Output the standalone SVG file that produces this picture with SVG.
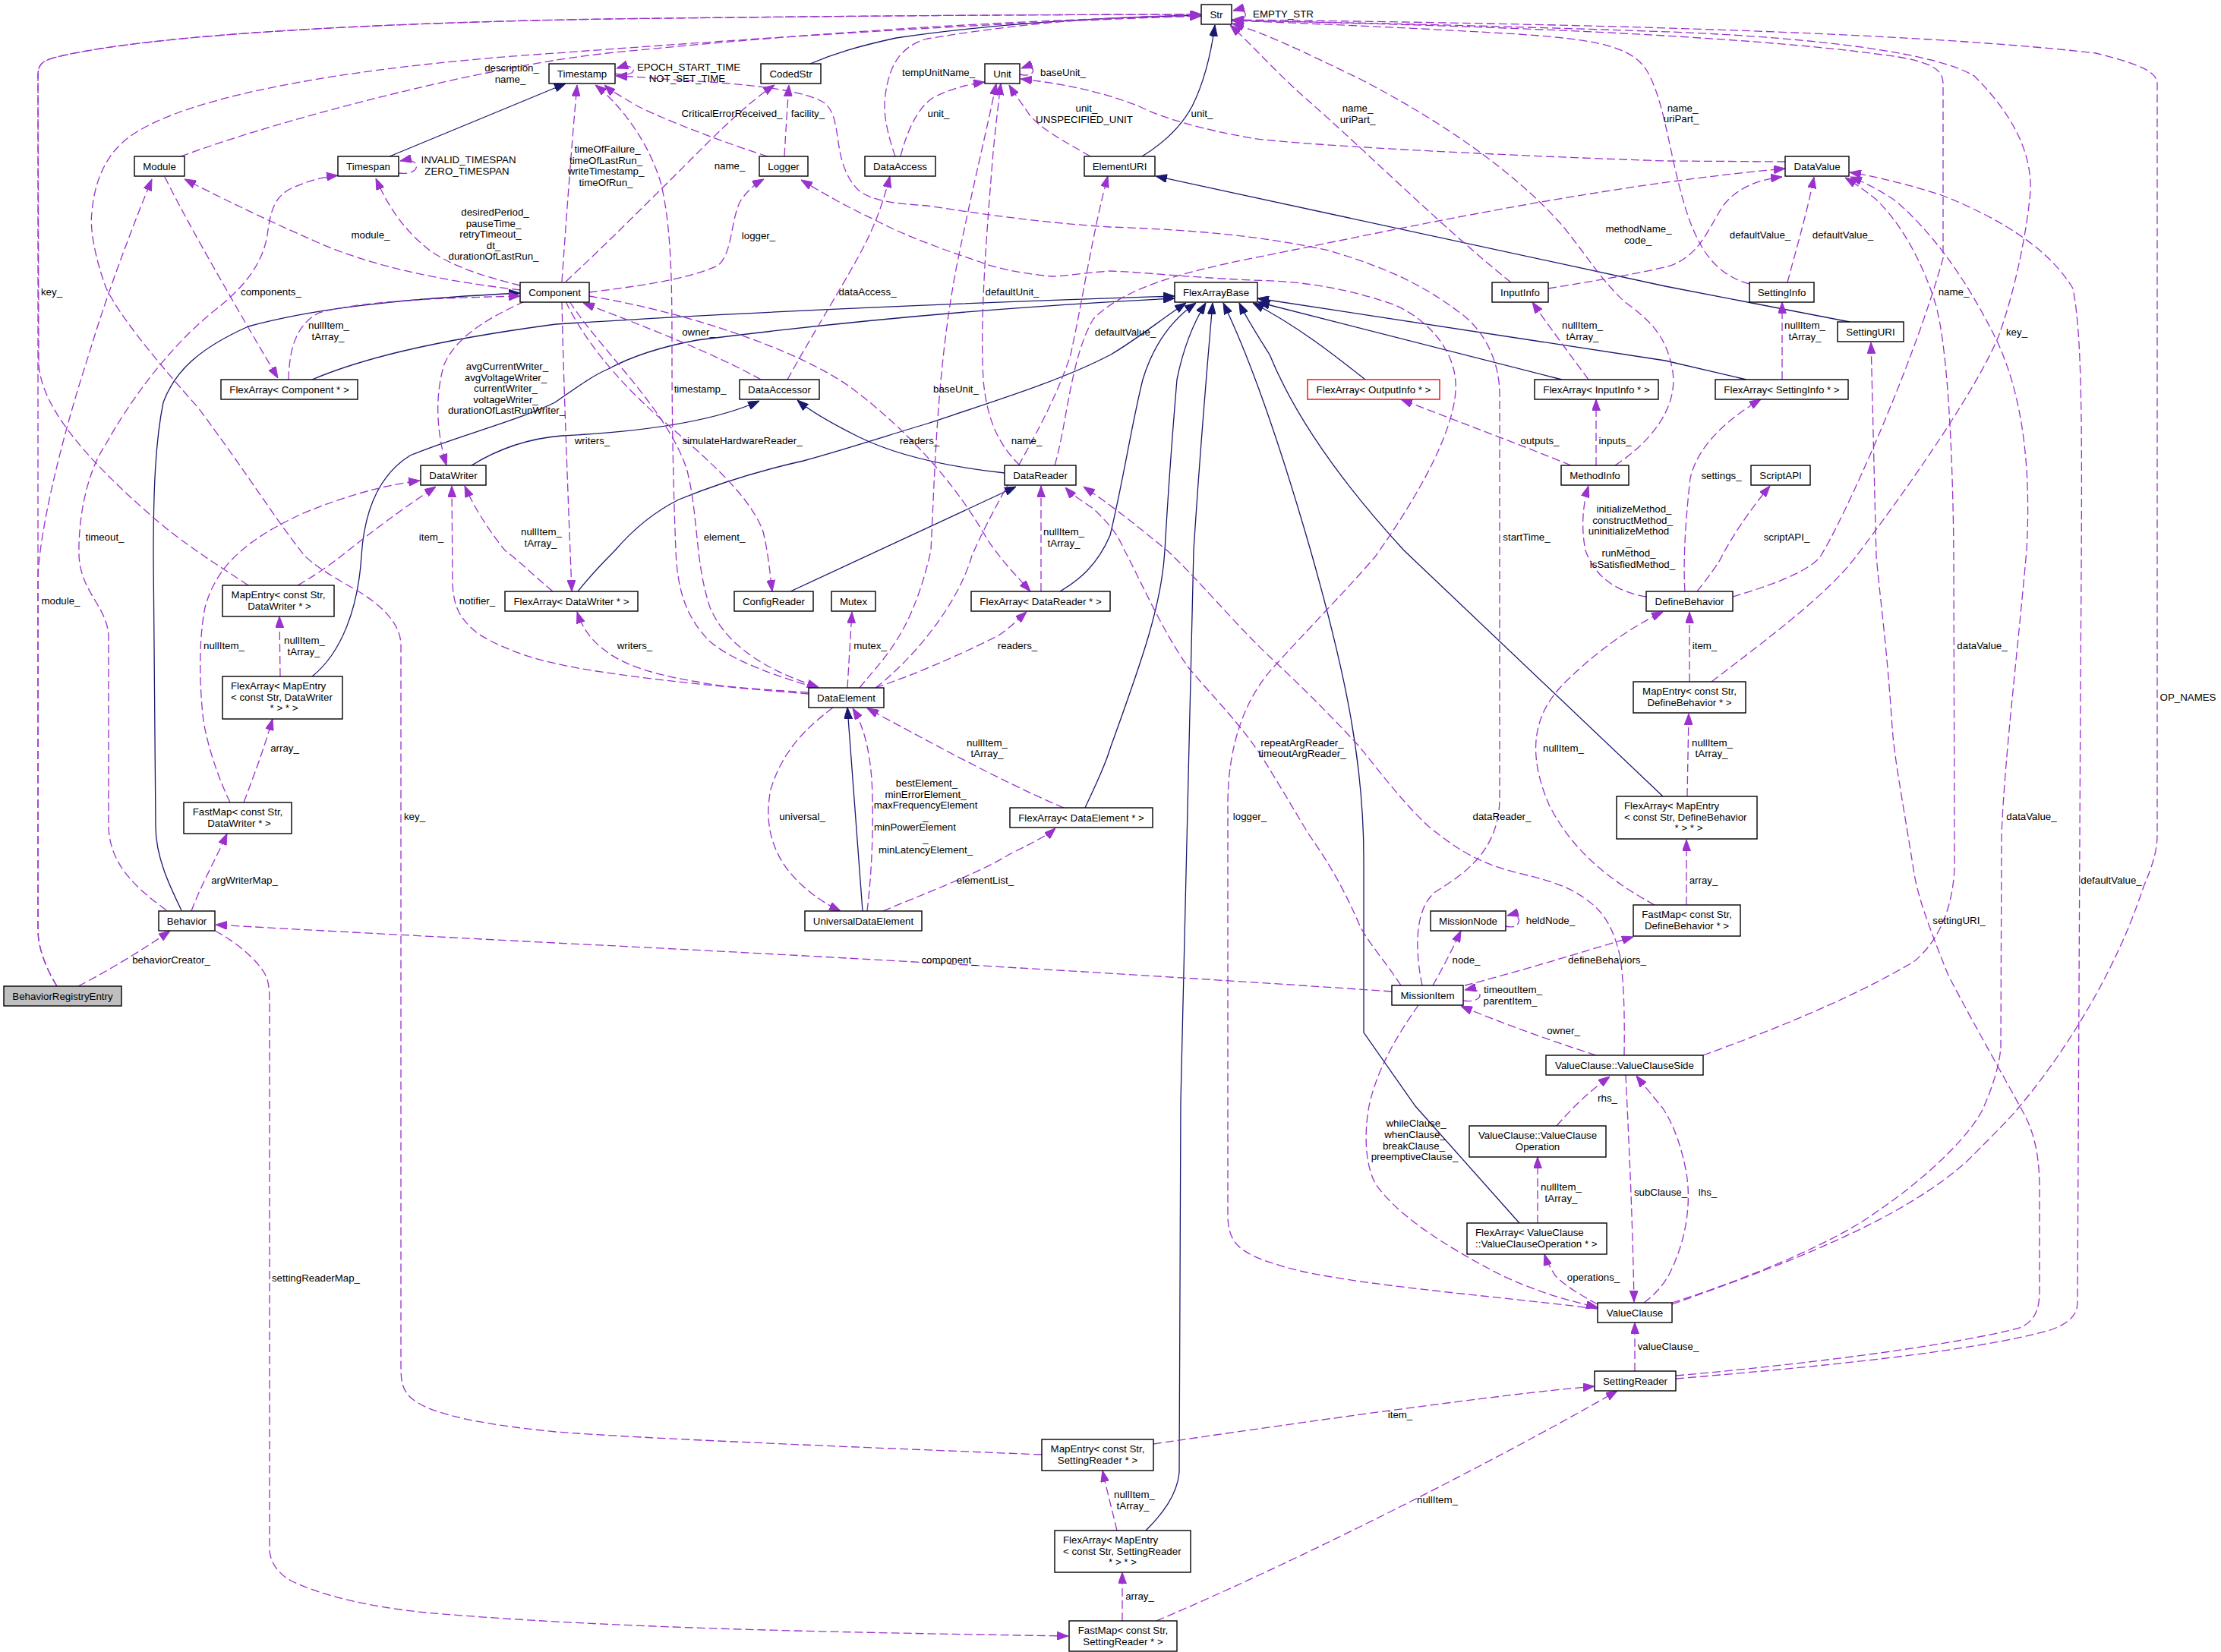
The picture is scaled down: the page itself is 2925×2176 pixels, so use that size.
<svg xmlns="http://www.w3.org/2000/svg" width="2925" height="2176" viewBox="0 0 2925 2176">
<style>
.n rect{fill:#fff;stroke:#000;stroke-width:1.4}
.t{font-family:"Liberation Sans",Arial,sans-serif;font-size:13.3px;fill:#000}
.m{text-anchor:middle}
.d{fill:none;stroke:#9a32cd;stroke-width:1.3;stroke-dasharray:11,5;marker-end:url(#ap)}
.s{fill:none;stroke:#191970;stroke-width:1.3;marker-end:url(#an)}
</style>
<defs>
<marker id="ap" viewBox="0 0 15 11" markerWidth="15" markerHeight="11" refX="15" refY="5.5" orient="auto" markerUnits="userSpaceOnUse"><path d="M0,0 L15,5.5 L0,11 z" fill="#9a32cd" stroke="#9a32cd" stroke-width="1"/></marker>
<marker id="an" viewBox="0 0 15 11" markerWidth="15" markerHeight="11" refX="15" refY="5.5" orient="auto" markerUnits="userSpaceOnUse"><path d="M0,0 L15,5.5 L0,11 z" fill="#191970" stroke="#191970" stroke-width="1"/></marker>
</defs>
<rect width="2925" height="2176" fill="#fff"/>
<g id="connectors">
<!-- inheritance -->
<path class="s" d="M1067,84 C1100,70 1130,61 1180,50 C1300,32 1450,23 1582,20"/>
<path class="s" d="M1504,206 C1530,190 1555,168 1570,140 C1585,110 1595,70 1600,33"/>
<path class="s" d="M513,206 L745,110"/>
<path class="s" d="M2436,424 L2193,377 L1522,232"/>
<path class="s" d="M239,1199 C225,1170 205,1130 205,1089 L202,732 C202,640 205,580 215,530 C230,490 260,460 327,430 C400,410 500,395 685,386"/>
<path class="s" d="M411,500 C470,475 560,450 732,427 C1000,410 1300,398 1547,390"/>
<path class="s" d="M411,891 C450,860 472,800 476,732 C480,670 500,625 540,600 C600,575 680,555 731,530 C760,510 780,495 801,486 C840,465 880,455 918,448 C1100,425 1300,405 1547,393"/>
<path class="s" d="M761,779 C780,755 795,740 810,725 C840,690 870,670 894,658 C950,635 1000,620 1058,607 C1120,590 1180,570 1221,558 C1320,525 1400,500 1463,467 C1500,445 1530,420 1562,399"/>
<path class="s" d="M1396,779 C1420,765 1445,745 1462,705 C1480,630 1490,560 1505,500 C1520,450 1545,420 1575,399"/>
<path class="s" d="M1429,1064 C1440,1040 1455,1010 1462,986 C1500,880 1530,800 1534,725 C1540,620 1545,560 1550,500 C1560,450 1575,420 1588,399"/>
<path class="s" d="M1509,2016 C1530,1995 1550,1970 1553,1940 L1555,1450 L1572,725 C1580,600 1590,480 1597,399"/>
<path class="s" d="M2001,1611 L1864,1457 L1796,1360 L1796,1131 C1796,1000 1770,880 1726,725 C1690,600 1650,480 1611,399"/>
<path class="s" d="M2190,1049 L1849,725 C1780,650 1710,560 1672,467 C1655,440 1642,420 1632,399"/>
<path class="s" d="M1798,500 C1760,470 1710,430 1650,399"/>
<path class="s" d="M2057,500 L1657,398"/>
<path class="s" d="M2300,500 L2193,475 L1656,393"/>
<path class="s" d="M621,613 C650,595 690,578 740,574 C820,570 930,560 1000,528"/>
<path class="s" d="M1323,623 C1250,615 1180,600 1130,575 C1090,555 1065,540 1050,527"/>
<path class="s" d="M1041,779 L1338,641"/>
<path class="s" d="M1136,1200 L1116,932"/>
<!-- usage -->
<path class="d" d="M75,1299 C62,1278 50,1250 50,1225 L50,100 C50,85 55,80 75,75 C200,45 500,30 800,25 C1100,21 1400,19 1582,19"/>
<path class="d" d="M327,771 C280,740 240,715 200,680 C120,610 55,540 51,480 L50,100 C50,85 55,80 75,75 C200,45 500,30 800,25 C1100,21 1400,19 1582,19"/>
<path class="d" d="M75,1299 C62,1278 50,1250 50,1225 L50,760 C52,700 80,580 117,467 C140,390 170,310 200,236"/>
<path class="d" d="M1372,1916 C1100,1905 850,1895 732,1886 C620,1875 560,1860 540,1840 C530,1830 528,1820 528,1800 L528,850 C528,820 500,795 467,776 C430,755 415,745 401,732 C360,680 330,630 261,537 C210,480 160,420 140,380 C125,340 118,300 121,280 C125,230 145,200 168,182 C250,120 500,85 732,70 C1000,50 1300,30 1582,21"/>
<path class="d" d="M238,206 C330,172 470,133 607,103 C700,84 732,78 800,70 C1100,40 1350,26 1582,21"/>
<path class="d" d="M685,376 C640,365 590,350 560,325 C530,300 510,270 495,235"/>
<path class="d" d="M685,382 C600,372 500,355 420,320 C340,285 280,255 243,236"/>
<path class="d" d="M217,233 C250,300 320,420 366,498"/>
<path class="d" d="M380,500 C381,470 385,430 420,412 C480,395 600,392 685,390"/>
<path class="d" d="M219,1199 C180,1170 145,1140 143,1090 L143,840 C143,800 105,780 104,730 C103,680 115,620 140,584 C170,530 220,460 280,411 C320,380 345,350 352,310 C356,280 360,262 380,250 C400,240 420,234 445,231"/>
<path class="d" d="M740,371 C745,300 752,200 760,112"/>
<path class="d" d="M745,371 C800,320 870,250 930,190 C970,150 1000,125 1020,112"/>
<path class="d" d="M776,385 C830,378 900,370 945,350 C965,335 962,290 975,265 C985,250 995,242 1006,236"/>
<path class="d" d="M1033,206 C1035,170 1037,140 1039,112"/>
<path class="d" d="M1011,206 C960,190 880,160 840,140 C820,128 805,120 796,112"/>
<path class="d" d="M1186,206 C1195,170 1210,140 1230,128 C1250,118 1270,112 1297,108"/>
<path class="d" d="M1179,206 C1170,180 1162,150 1166,125 C1172,80 1190,60 1221,51 C1350,30 1450,22 1582,20"/>
<path class="d" d="M1436,206 C1400,185 1370,170 1355,150 C1345,135 1335,122 1329,112"/>
<path class="d" d="M2351,213 L2194,212 C1950,204 1700,190 1649,182 C1580,170 1530,155 1500,140 C1470,128 1420,112 1344,104"/>
<path class="d" d="M1343,98 C1366,104 1366,82 1345,90"/>
<path class="d" d="M810,97 C842,104 842,80 812,90"/>
<path class="d" d="M1622,26 C1646,31 1646,8 1624,14"/>
<path class="d" d="M525,228 C556,232 556,206 527,212"/>
<path class="d" d="M1873,1298 C1865,1260 1860,1200 1890,1175 C1930,1150 1975,1120 1975,1050 L1975,520 C1975,470 1950,430 1920,410 C1880,380 1835,355 1750,330 C1650,308 1550,302 1462,299 C1350,292 1250,275 1221,271 C1180,268 1150,266 1130,250 C1110,230 1106,200 1104,187 C1100,160 1098,145 1085,135 C1060,120 1000,112 918,107 C870,104 840,101 811,100"/>
<path class="d" d="M2104,1724 C1950,1705 1750,1690 1680,1665 C1630,1650 1617,1635 1617,1600 L1617,1060 C1617,980 1640,920 1677,879 C1740,810 1780,770 1812,732 C1870,650 1920,560 1917,504 C1915,460 1880,420 1835,401 C1760,375 1700,370 1649,369 C1560,365 1500,358 1462,357 C1420,360 1400,364 1385,364 C1340,360 1300,350 1291,345 C1230,325 1180,305 1151,289 C1110,270 1080,252 1055,237"/>
<path class="d" d="M1075,906 C1020,890 964,870 935,845 C905,815 892,780 890,725 C887,650 885,560 885,470 C885,380 885,300 870,240 C855,190 820,140 784,112"/>
<path class="d" d="M750,397 C790,460 880,540 905,620 C920,680 915,740 935,800 C960,860 1030,890 1078,905"/>
<path class="d" d="M691,397 C640,420 600,445 585,480 C570,530 578,580 588,613"/>
<path class="d" d="M740,397 C742,500 748,650 753,779"/>
<path class="d" d="M745,397 C770,450 820,510 880,560 C950,620 990,660 1005,700 C1012,730 1014,755 1017,779"/>
<path class="d" d="M776,390 C900,410 1050,460 1120,510 C1200,570 1260,640 1300,710 C1320,740 1340,760 1357,779"/>
<path class="d" d="M1002,500 C950,470 850,430 768,399"/>
<path class="d" d="M1037,500 C1070,440 1120,360 1140,320 C1155,290 1165,260 1172,232"/>
<path class="d" d="M1343,613 C1320,590 1300,560 1295,500 C1290,420 1300,300 1308,200 C1312,160 1315,135 1318,110"/>
<path class="d" d="M1389,613 C1405,560 1410,470 1440,420 C1480,380 1550,360 1650,340 C1850,300 2100,245 2351,222"/>
<path class="d" d="M1132,906 C1160,870 1200,840 1226,725 C1232,600 1235,480 1260,350 C1280,250 1300,170 1312,110"/>
<path class="d" d="M1153,906 C1200,870 1260,800 1280,732 C1320,640 1380,560 1410,467 C1425,400 1440,300 1459,232"/>
<path class="d" d="M1990,372 C1900,300 1800,200 1720,130 C1680,95 1650,60 1620,33"/>
<path class="d" d="M2304,374 C2260,362 2240,330 2225,290 C2200,220 2195,140 2170,95 C2150,60 2100,52 2000,45 C1850,36 1700,30 1622,27"/>
<path class="d" d="M2127,613 C2170,585 2210,540 2203,490 C2195,440 2170,420 2139,397 C2110,370 2092,340 2060,300 C2000,230 1900,160 1789,103 C1720,70 1670,45 1623,31"/>
<path class="d" d="M2282,786 C2330,772 2385,752 2398,732 C2430,680 2520,480 2559,340 L2559,110 C2559,90 2540,82 2500,75 C2300,45 1900,32 1623,27"/>
<path class="d" d="M2254,898 C2330,840 2410,780 2445,732 C2500,660 2600,520 2632,443 C2655,380 2670,300 2674,252 C2676,200 2650,150 2600,100 C2550,70 2400,50 2200,42 C2000,35 1800,30 1623,27"/>
<path class="d" d="M2202,1718 C2350,1665 2500,1610 2590,1530 C2630,1490 2650,1470 2660,1457 C2700,1410 2780,1300 2823,1168 C2835,1140 2841,1120 2841,1100 L2841,110 C2841,95 2820,85 2760,70 C2500,40 2000,30 1623,26"/>
<path class="d" d="M2202,1716 C2300,1685 2420,1635 2473,1595 C2540,1550 2600,1490 2613,1457 C2625,1430 2634,1400 2635,1378 L2636,1100 C2640,1000 2655,880 2669,725 C2675,620 2665,520 2627,443 C2600,390 2560,320 2497,265 C2475,250 2455,240 2437,233"/>
<path class="d" d="M2243,1390 C2320,1362 2430,1320 2520,1267 C2560,1235 2575,1180 2574,1131 L2573,732 C2572,600 2565,450 2548,397 C2530,340 2500,290 2470,262 C2455,250 2445,243 2430,234"/>
<path class="d" d="M2207,1816 C2400,1800 2600,1780 2700,1752 C2728,1742 2736,1730 2736,1715 L2740,900 C2742,600 2744,450 2730,380 C2700,330 2640,290 2557,257 C2520,245 2470,232 2436,227"/>
<path class="d" d="M2207,1812 C2400,1795 2580,1770 2660,1749 C2680,1740 2686,1725 2686,1700 L2686,1560 C2685,1500 2670,1475 2660,1457 C2640,1420 2600,1350 2566,1285 C2540,1220 2525,1180 2520,1145 C2505,1050 2495,1000 2492,958 C2485,850 2475,780 2471,732 C2468,620 2466,520 2464,451"/>
<path class="d" d="M2039,380 C2100,370 2160,360 2200,350 C2240,335 2250,300 2270,270 C2290,245 2320,236 2347,233"/>
<path class="d" d="M2354,372 C2365,330 2380,280 2389,233"/>
<path class="d" d="M2092,500 C2070,470 2040,430 2018,398"/>
<path class="d" d="M2347,500 L2347,398"/>
<path class="d" d="M2102,613 L2102,526"/>
<path class="d" d="M2069,613 C2000,585 1920,555 1845,526"/>
<path class="d" d="M2168,786 C2130,780 2100,760 2088,725 C2083,700 2083,670 2092,640"/>
<path class="d" d="M2219,779 C2217,750 2218,700 2226,630 C2235,590 2270,555 2319,526"/>
<path class="d" d="M2235,779 C2250,760 2265,740 2268,732 C2285,700 2310,665 2331,640"/>
<path class="d" d="M2225,898 L2225,806"/>
<path class="d" d="M2222,1049 L2224,940"/>
<path class="d" d="M2221,1192 L2221,1106"/>
<path class="d" d="M2179,1192 C2120,1160 2070,1120 2040,1060 C2010,990 2020,940 2060,900 C2110,850 2160,820 2190,806"/>
<path class="d" d="M1929,1298 C2000,1280 2080,1255 2151,1234"/>
<path class="d" d="M1887,1298 C1900,1275 1912,1252 1924,1226"/>
<path class="d" d="M1983,1220 C2006,1226 2006,1200 1985,1206"/>
<path class="d" d="M1927,1318 C1956,1323 1956,1298 1929,1304"/>
<path class="d" d="M1833,1306 C1600,1290 1200,1265 731,1242 C500,1230 350,1222 284,1218"/>
<path class="d" d="M2102,1390 C2040,1370 1970,1345 1924,1325"/>
<path class="d" d="M1868,1324 C1850,1350 1815,1400 1803,1457 C1795,1500 1800,1540 1812,1560 C1840,1600 1900,1640 1976,1679 C2020,1700 2060,1712 2104,1722"/>
<path class="d" d="M2139,1390 C2140,1330 2138,1290 2134,1262 C2125,1220 2110,1200 2092,1187 C2070,1170 2050,1162 2000,1150 C1950,1138 1920,1120 1882,1089 C1850,1060 1820,1020 1789,982 C1750,940 1710,900 1672,865 C1620,815 1580,765 1537,725 C1500,695 1470,670 1427,641"/>
<path class="d" d="M1845,1298 C1820,1260 1800,1240 1789,1215 C1765,1160 1745,1130 1723,1098 C1700,1060 1680,1025 1658,991 C1630,950 1595,915 1565,879 C1530,830 1500,760 1481,725 C1470,700 1460,690 1440,670 C1425,660 1412,652 1403,642"/>
<path class="d" d="M2050,1483 C2070,1460 2090,1440 2120,1418"/>
<path class="d" d="M2141,1416 C2145,1500 2150,1600 2152,1715"/>
<path class="d" d="M2165,1716 C2180,1705 2193,1690 2200,1675 C2222,1630 2228,1580 2220,1540 C2212,1500 2200,1475 2190,1460 C2178,1445 2165,1430 2155,1417"/>
<path class="d" d="M2104,1718 C2080,1705 2060,1693 2048,1680 C2042,1670 2037,1662 2034,1652"/>
<path class="d" d="M2025,1611 L2025,1524"/>
<path class="d" d="M2153,1806 L2153,1742"/>
<path class="d" d="M1519,1902 C1600,1890 1742,1870 1800,1862 C1950,1842 2030,1832 2100,1826"/>
<path class="d" d="M1523,2135 C1700,2060 1950,1935 2130,1832"/>
<path class="d" d="M1471,2016 C1465,1990 1458,1965 1452,1937"/>
<path class="d" d="M1478,2135 L1478,2071"/>
<path class="d" d="M283,1226 C310,1240 340,1265 350,1285 C355,1295 355,1310 355,1330 L355,2040 C355,2060 370,2075 383,2082 C430,2105 500,2118 560,2124 C800,2145 1100,2150 1407,2155"/>
<path class="d" d="M252,1200 C265,1165 285,1130 299,1098"/>
<path class="d" d="M321,1057 C335,1020 348,985 359,947"/>
<path class="d" d="M369,891 L368,812"/>
<path class="d" d="M303,1057 C290,1030 275,990 268,950 C262,900 262,840 270,800 C278,770 295,745 315,728 C340,705 370,690 397,677 C450,655 500,640 553,633"/>
<path class="d" d="M392,771 C420,755 440,740 455,728 C490,700 530,670 574,641"/>
<path class="d" d="M1065,914 C950,905 800,890 732,874 C690,865 654,850 630,835 C605,815 598,800 596,770 L595,640"/>
<path class="d" d="M1065,912 C1000,908 950,905 918,898 C870,890 830,880 801,860 C780,845 768,830 760,806"/>
<path class="d" d="M728,779 C705,760 685,740 665,725 C645,700 625,670 612,640"/>
<path class="d" d="M1116,906 L1122,806"/>
<path class="d" d="M1153,906 C1200,890 1260,865 1315,837 C1330,827 1342,815 1352,806"/>
<path class="d" d="M1097,932 C1060,960 1030,990 1015,1040 C1005,1090 1020,1130 1050,1160 C1070,1180 1090,1192 1107,1200"/>
<path class="d" d="M1142,1200 C1148,1150 1150,1100 1149,1050 C1148,1000 1140,960 1123,933"/>
<path class="d" d="M1401,1064 C1320,1030 1220,975 1142,933"/>
<path class="d" d="M1163,1200 C1210,1180 1290,1150 1330,1125 C1360,1110 1380,1100 1390,1091"/>
<path class="d" d="M1371,779 L1371,640"/>
<path class="d" d="M103,1299 C140,1280 190,1250 224,1226"/>
</g>
<g id="edge-labels" class="t">
<text class="t m" x="674" y="94">description_</text><text class="t m" x="672" y="108.6">name_</text>
<text class="t m" x="68" y="389">key_</text>
<text class="t m" x="80" y="796">module_</text>
<text class="t m" x="488" y="314">module_</text>
<text class="t m" x="357" y="389">components_</text>
<text class="t m" x="433" y="433">nullItem_</text><text class="t m" x="432" y="448">tArray_</text>
<text class="t m" x="617" y="215">INVALID_TIMESPAN</text><text class="t m" x="615" y="230">ZERO_TIMESPAN</text>
<text class="t m" x="652" y="284">desiredPeriod_</text><text class="t m" x="650" y="298.6">pauseTime_</text><text class="t m" x="646" y="313.2">retryTimeout_</text><text class="t m" x="650" y="327.8">dt_</text><text class="t m" x="650" y="342.4">durationOfLastRun_</text>
<text class="t m" x="668" y="487">avgCurrentWriter_</text><text class="t m" x="666" y="501.6">avgVoltageWriter_</text><text class="t m" x="666" y="516.2">currentWriter_</text><text class="t m" x="666" y="530.8">voltageWriter_</text><text class="t m" x="667" y="545.4">durationOfLastRunWriter_</text>
<text class="t m" x="138" y="712">timeout_</text>
<text class="t m" x="568" y="712">item_</text>
<text class="t m" x="713" y="705">nullItem_</text><text class="t m" x="712" y="719.6">tArray_</text>
<text class="t m" x="907" y="93">EPOCH_START_TIME</text><text class="t m" x="905" y="107.6">NOT_SET_TIME</text>
<text class="t m" x="1236" y="100">tempUnitName_</text>
<text class="t m" x="1400" y="100">baseUnit_</text>
<text class="t m" x="964" y="154.4">CriticalErrorReceived_</text>
<text class="t m" x="1064" y="154.4">facility_</text>
<text class="t m" x="1236" y="154.4">unit_</text>
<text class="t m" x="1431" y="147">unit_</text><text class="t m" x="1428" y="161.6">UNSPECIFIED_UNIT</text>
<text class="t m" x="800" y="201">timeOfFailure_</text><text class="t m" x="798" y="215.6">timeOfLastRun_</text><text class="t m" x="798" y="230.2">writeTimestamp_</text><text class="t m" x="798" y="244.8">timeOfRun_</text>
<text class="t m" x="961" y="223">name_</text>
<text class="t m" x="999" y="314.5">logger_</text>
<text class="t m" x="1142.5" y="389">dataAccess_</text>
<text class="t m" x="1333" y="389">defaultUnit_</text>
<text class="t m" x="1482" y="441.5">defaultValue_</text>
<text class="t m" x="920" y="441.5">owner_</text>
<text class="t m" x="922" y="516.7">timestamp_</text>
<text class="t m" x="1259" y="516.7">baseUnit_</text>
<text class="t m" x="780" y="585">writers_</text>
<text class="t m" x="977.5" y="585">simulateHardwareReader_</text>
<text class="t m" x="1211" y="585">readers_</text>
<text class="t m" x="1352" y="585">name_</text>
<text class="t m" x="954" y="712">element_</text>
<text class="t m" x="1401" y="705">nullItem_</text><text class="t m" x="1401" y="719.6">tArray_</text>
<text class="t m" x="1690" y="22.7">EMPTY_STR</text>
<text class="t m" x="1583" y="154.4">unit_</text>
<text class="t m" x="1788" y="147">name_</text><text class="t m" x="1788" y="162">uriPart_</text>
<text class="t m" x="2158" y="306">methodName_</text><text class="t m" x="2157" y="320.6">code_</text>
<text class="t m" x="2084" y="433">nullItem_</text><text class="t m" x="2084" y="448">tArray_</text>
<text class="t m" x="2028" y="585">outputs_</text>
<text class="t m" x="2127" y="585">inputs_</text>
<text class="t m" x="2010.5" y="712">startTime_</text>
<text class="t m" x="2152" y="675">initializeMethod_</text><text class="t m" x="2150" y="689.6">constructMethod_</text><text class="t m" x="2145" y="704.2">uninitializeMethod</text><text class="t m" x="2145" y="718.8">_</text><text class="t m" x="2145" y="733.4">runMethod_</text><text class="t m" x="2150" y="748">isSatisfiedMethod_</text>
<text class="t m" x="2216" y="146.5">name_</text><text class="t m" x="2214" y="161.4">uriPart_</text>
<text class="t m" x="2318" y="314">defaultValue_</text>
<text class="t m" x="2427" y="314">defaultValue_</text>
<text class="t m" x="2573" y="389">name_</text>
<text class="t m" x="2656" y="441.5">key_</text>
<text class="t m" x="2377" y="433">nullItem_</text><text class="t m" x="2377" y="448">tArray_</text>
<text class="t m" x="2267" y="630.6">settings_</text>
<text class="t m" x="2353" y="712">scriptAPI_</text>
<text class="t m" x="295" y="855">nullItem_</text>
<text class="t m" x="401" y="848">nullItem_</text><text class="t m" x="400" y="862.6">tArray_</text>
<text class="t m" x="628.5" y="796">notifier_</text>
<text class="t m" x="375" y="990">array_</text>
<text class="t m" x="546" y="1080">key_</text>
<text class="t m" x="322" y="1164">argWriterMap_</text>
<text class="t m" x="225.5" y="1269">behaviorCreator_</text>
<text class="t m" x="836" y="855">writers_</text>
<text class="t m" x="1146" y="855">mutex_</text>
<text class="t m" x="1340" y="855">readers_</text>
<text class="t m" x="1300" y="982.6">nullItem_</text><text class="t m" x="1300" y="997.2">tArray_</text>
<text class="t m" x="1220.5" y="1036">bestElement_</text><text class="t m" x="1219" y="1050.6">minErrorElement_</text><text class="t m" x="1219" y="1065.2">maxFrequencyElement</text><text class="t m" x="1219" y="1079.8">_</text><text class="t m" x="1205" y="1094.4">minPowerElement</text><text class="t m" x="1219" y="1109">_</text><text class="t m" x="1219" y="1123.6">minLatencyElement_</text>
<text class="t m" x="1056.5" y="1080">universal_</text>
<text class="t m" x="1297.5" y="1164">elementList_</text>
<text class="t m" x="1250" y="1269">component_</text>
<text class="t m" x="1715" y="982.6">repeatArgReader_</text><text class="t m" x="1715" y="997.2">timeoutArgReader_</text>
<text class="t m" x="1646" y="1080">logger_</text>
<text class="t m" x="1978" y="1080">dataReader_</text>
<text class="t m" x="2059" y="989.6">nullItem_</text>
<text class="t m" x="2042" y="1216.5">heldNode_</text>
<text class="t m" x="1931" y="1269">node_</text>
<text class="t m" x="2116.5" y="1269">defineBehaviors_</text>
<text class="t m" x="1992.5" y="1308">timeoutItem_</text><text class="t m" x="1989" y="1322.6">parentItem_</text>
<text class="t m" x="2059" y="1361.6">owner_</text>
<text class="t m" x="2117" y="1451">rhs_</text>
<text class="t m" x="2245" y="855">item_</text>
<text class="t m" x="2610.5" y="855">dataValue_</text>
<text class="t m" x="2881.5" y="922.8">OP_NAMES</text>
<text class="t m" x="2255" y="982.6">nullItem_</text><text class="t m" x="2254" y="997.2">tArray_</text>
<text class="t m" x="2675.5" y="1080">dataValue_</text>
<text class="t m" x="2243.5" y="1164">array_</text>
<text class="t m" x="2780.5" y="1164">defaultValue_</text>
<text class="t m" x="2580" y="1216.5">settingURI_</text>
<text class="t m" x="416" y="1687.5">settingReaderMap_</text>
<text class="t m" x="1865" y="1484.4">whileClause_</text><text class="t m" x="1863.5" y="1499">whenClause_</text><text class="t m" x="1862" y="1513.6">breakClause_</text><text class="t m" x="1863" y="1528.2">preemptiveClause_</text>
<text class="t m" x="2056" y="1568.4">nullItem_</text><text class="t m" x="2056" y="1583">tArray_</text>
<text class="t m" x="2187" y="1575.4">subClause_</text>
<text class="t m" x="2249" y="1575.4">lhs_</text>
<text class="t m" x="2098.5" y="1687">operations_</text>
<text class="t m" x="2197" y="1778">valueClause_</text>
<text class="t m" x="1844" y="1868">item_</text>
<text class="t m" x="1893" y="1980">nullItem_</text>
<text class="t m" x="1494" y="1973">nullItem_</text><text class="t m" x="1492" y="1987.6">tArray_</text>
<text class="t m" x="1501" y="2107">array_</text>
</g>
<g id="nodes">
<g id="n-Str" class="n"><rect x="1582" y="6" width="40" height="26"/><text class="t m" x="1602" y="24">Str</text></g>
<g id="n-Timestamp" class="n"><rect x="723" y="84" width="87" height="26"/><text class="t m" x="766.5" y="102">Timestamp</text></g>
<g id="n-CodedStr" class="n"><rect x="1002" y="84" width="79" height="26"/><text class="t m" x="1041.5" y="102">CodedStr</text></g>
<g id="n-Unit" class="n"><rect x="1297" y="84" width="46" height="26"/><text class="t m" x="1320" y="102">Unit</text></g>
<g id="n-Module" class="n"><rect x="177" y="206" width="66" height="26"/><text class="t m" x="210" y="224">Module</text></g>
<g id="n-Timespan" class="n"><rect x="445" y="206" width="80" height="26"/><text class="t m" x="485" y="224">Timespan</text></g>
<g id="n-Logger" class="n"><rect x="1000" y="206" width="64" height="26"/><text class="t m" x="1032" y="224">Logger</text></g>
<g id="n-DataAccess" class="n"><rect x="1139" y="206" width="93" height="26"/><text class="t m" x="1185.5" y="224">DataAccess</text></g>
<g id="n-ElementURI" class="n"><rect x="1428" y="206" width="93" height="26"/><text class="t m" x="1474.5" y="224">ElementURI</text></g>
<g id="n-DataValue" class="n"><rect x="2351" y="206" width="84" height="26"/><text class="t m" x="2393" y="224">DataValue</text></g>
<g id="n-Component" class="n"><rect x="685" y="372" width="91" height="26"/><text class="t m" x="730.5" y="390">Component</text></g>
<g id="n-FlexArrayBase" class="n"><rect x="1547" y="372" width="109" height="26"/><text class="t m" x="1601.5" y="390">FlexArrayBase</text></g>
<g id="n-InputInfo" class="n"><rect x="1965" y="372" width="74" height="26"/><text class="t m" x="2002" y="390">InputInfo</text></g>
<g id="n-SettingInfo" class="n"><rect x="2304" y="372" width="85" height="26"/><text class="t m" x="2346.5" y="390">SettingInfo</text></g>
<g id="n-SettingURI" class="n"><rect x="2420" y="424" width="87" height="26"/><text class="t m" x="2463.5" y="442">SettingURI</text></g>
<g id="n-FlexArrayComponent" class="n"><rect x="291" y="500" width="180" height="26"/><text class="t m" x="381" y="518">FlexArray&lt; Component * &gt;</text></g>
<g id="n-DataAccessor" class="n"><rect x="974" y="500" width="105" height="26"/><text class="t m" x="1026.5" y="518">DataAccessor</text></g>
<g id="n-FlexArrayOutputInfo" class="n"><rect x="1722" y="500" width="174" height="26" style="stroke:#ff0000"/><text class="t m" x="1809" y="518">FlexArray&lt; OutputInfo * &gt;</text></g>
<g id="n-FlexArrayInputInfo" class="n"><rect x="2021" y="500" width="163" height="26"/><text class="t m" x="2102.5" y="518">FlexArray&lt; InputInfo * &gt;</text></g>
<g id="n-FlexArraySettingInfo" class="n"><rect x="2259" y="500" width="175" height="26"/><text class="t m" x="2346.5" y="518">FlexArray&lt; SettingInfo * &gt;</text></g>
<g id="n-DataWriter" class="n"><rect x="554" y="613" width="86" height="26"/><text class="t m" x="597" y="631">DataWriter</text></g>
<g id="n-DataReader" class="n"><rect x="1323" y="613" width="94" height="26"/><text class="t m" x="1370" y="631">DataReader</text></g>
<g id="n-MethodInfo" class="n"><rect x="2056" y="613" width="89" height="26"/><text class="t m" x="2100.5" y="631">MethodInfo</text></g>
<g id="n-ScriptAPI" class="n"><rect x="2306" y="613" width="78" height="26"/><text class="t m" x="2345" y="631">ScriptAPI</text></g>
<g id="n-MapEntryDW" class="n"><rect x="293" y="771" width="147" height="41"/><text class="t m" x="366.5" y="788">MapEntry&lt; const Str,</text><text class="t m" x="368" y="802.5">DataWriter * &gt;</text></g>
<g id="n-FlexArrayDataWriter" class="n"><rect x="665" y="779" width="175" height="26"/><text class="t m" x="752.5" y="797">FlexArray&lt; DataWriter * &gt;</text></g>
<g id="n-ConfigReader" class="n"><rect x="967" y="779" width="104" height="26"/><text class="t m" x="1019" y="797">ConfigReader</text></g>
<g id="n-Mutex" class="n"><rect x="1095" y="779" width="58" height="26"/><text class="t m" x="1124" y="797">Mutex</text></g>
<g id="n-FlexArrayDataReader" class="n"><rect x="1279" y="779" width="183" height="26"/><text class="t m" x="1370.5" y="797">FlexArray&lt; DataReader * &gt;</text></g>
<g id="n-DefineBehavior" class="n"><rect x="2168" y="779" width="114" height="26"/><text class="t m" x="2225" y="797">DefineBehavior</text></g>
<g id="n-FlexArrayMapEntryDW" class="n"><rect x="293" y="891" width="158" height="56"/><text class="t" x="304" y="908">FlexArray&lt; MapEntry</text><text class="t" x="304" y="922.5">&lt; const Str, DataWriter</text><text class="t m" x="374" y="937">* &gt; * &gt;</text></g>
<g id="n-MapEntryDB" class="n"><rect x="2151" y="898" width="148" height="41"/><text class="t m" x="2225" y="915">MapEntry&lt; const Str,</text><text class="t m" x="2225" y="929.5">DefineBehavior * &gt;</text></g>
<g id="n-DataElement" class="n"><rect x="1065" y="906" width="99" height="26"/><text class="t m" x="1114.5" y="924">DataElement</text></g>
<g id="n-FastMapDW" class="n"><rect x="242" y="1057" width="142" height="41"/><text class="t m" x="313" y="1074">FastMap&lt; const Str,</text><text class="t m" x="315" y="1088.5">DataWriter * &gt;</text></g>
<g id="n-FlexArrayDataElement" class="n"><rect x="1330" y="1064" width="188" height="26"/><text class="t m" x="1424" y="1082">FlexArray&lt; DataElement * &gt;</text></g>
<g id="n-FlexArrayMapEntryDB" class="n"><rect x="2129" y="1049" width="185" height="56"/><text class="t" x="2139" y="1066">FlexArray&lt; MapEntry</text><text class="t" x="2139" y="1080.5">&lt; const Str, DefineBehavior</text><text class="t m" x="2224" y="1095">* &gt; * &gt;</text></g>
<g id="n-Behavior" class="n"><rect x="209" y="1200" width="74" height="26"/><text class="t m" x="246" y="1218">Behavior</text></g>
<g id="n-UniversalDataElement" class="n"><rect x="1060" y="1200" width="154" height="26"/><text class="t m" x="1137" y="1218">UniversalDataElement</text></g>
<g id="n-MissionNode" class="n"><rect x="1884" y="1200" width="99" height="26"/><text class="t m" x="1933.5" y="1218">MissionNode</text></g>
<g id="n-FastMapDB" class="n"><rect x="2151" y="1192" width="141" height="41"/><text class="t m" x="2221.5" y="1209">FastMap&lt; const Str,</text><text class="t m" x="2221.5" y="1223.5">DefineBehavior * &gt;</text></g>
<g id="n-BehaviorRegistryEntry" class="n"><rect x="5" y="1299" width="155" height="26" style="fill:#bfbfbf"/><text class="t m" x="82.5" y="1317">BehaviorRegistryEntry</text></g>
<g id="n-MissionItem" class="n"><rect x="1833" y="1298" width="94" height="26"/><text class="t m" x="1880" y="1316">MissionItem</text></g>
<g id="n-ValueClauseSide" class="n"><rect x="2036" y="1390" width="207" height="26"/><text class="t m" x="2139.5" y="1408">ValueClause::ValueClauseSide</text></g>
<g id="n-ValueClauseOperation" class="n"><rect x="1935" y="1483" width="180" height="41"/><text class="t m" x="2025" y="1500">ValueClause::ValueClause</text><text class="t m" x="2025" y="1514.5">Operation</text></g>
<g id="n-FlexArrayVCOp" class="n"><rect x="1932" y="1611" width="184" height="41"/><text class="t" x="1943" y="1628">FlexArray&lt; ValueClause</text><text class="t" x="1943" y="1642.5">::ValueClauseOperation * &gt;</text></g>
<g id="n-ValueClause" class="n"><rect x="2104" y="1716" width="98" height="26"/><text class="t m" x="2153" y="1734">ValueClause</text></g>
<g id="n-SettingReader" class="n"><rect x="2100" y="1806" width="107" height="26"/><text class="t m" x="2153.5" y="1824">SettingReader</text></g>
<g id="n-MapEntrySR" class="n"><rect x="1372" y="1896" width="147" height="41"/><text class="t m" x="1445.5" y="1913">MapEntry&lt; const Str,</text><text class="t m" x="1445.5" y="1927.5">SettingReader * &gt;</text></g>
<g id="n-FlexArrayMapEntrySR" class="n"><rect x="1389" y="2016" width="179" height="55"/><text class="t" x="1400" y="2033">FlexArray&lt; MapEntry</text><text class="t" x="1400" y="2047.5">&lt; const Str, SettingReader</text><text class="t m" x="1478.5" y="2062">* &gt; * &gt;</text></g>
<g id="n-FastMapSR" class="n"><rect x="1408" y="2135" width="142" height="40"/><text class="t m" x="1479" y="2152">FastMap&lt; const Str,</text><text class="t m" x="1479" y="2166.5">SettingReader * &gt;</text></g>
</g>
</svg>
